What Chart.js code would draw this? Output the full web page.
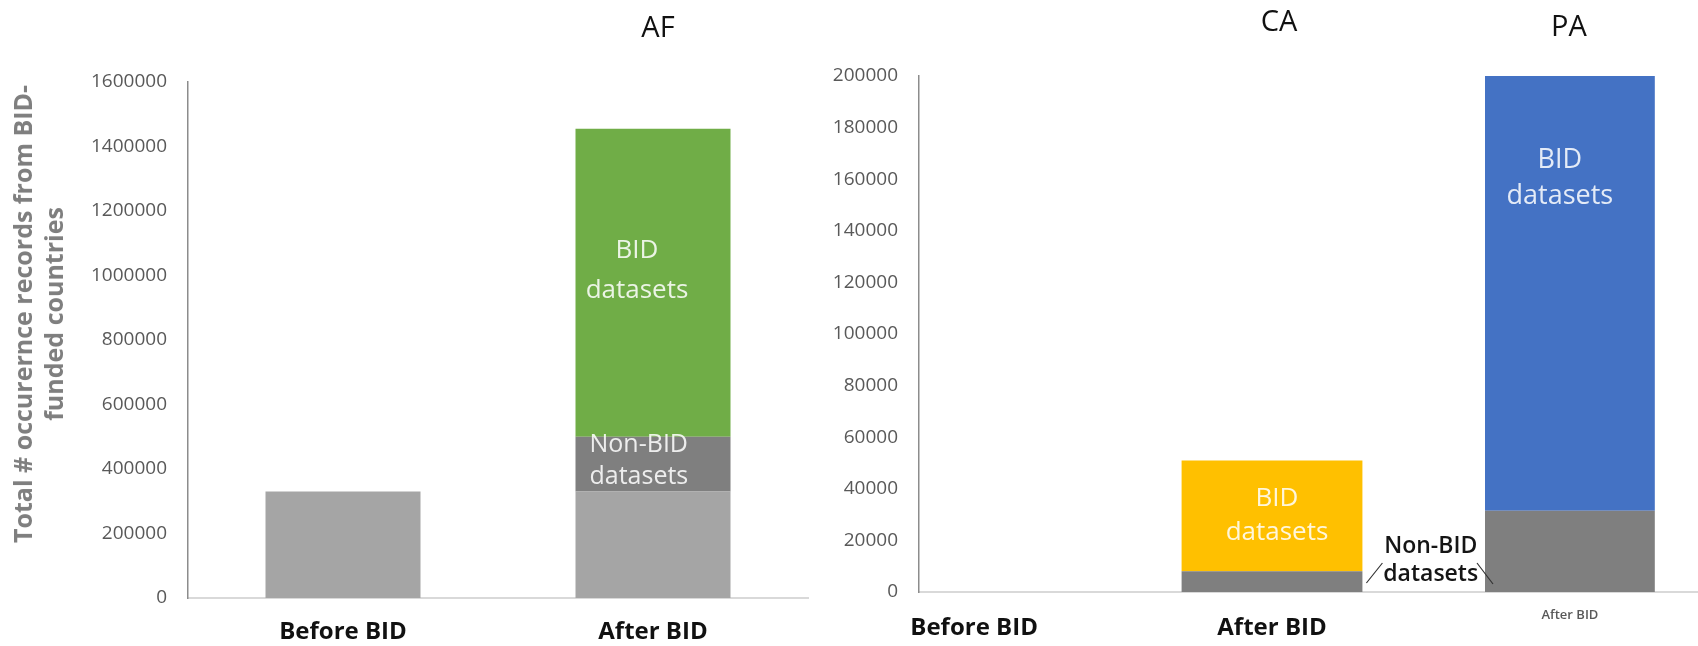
<!DOCTYPE html>
<html>
<head>
<meta charset="utf-8">
<script src="https://cdn.jsdelivr.net/npm/chart.js@4.4.1/dist/chart.umd.min.js"></script>
<style>
  html, body { margin: 0; padding: 0; background: #fff; }
  #wrap { position: relative; width: 1698px; height: 646px; overflow: hidden; font-family: 'Open Sans', sans-serif; }
  #wrap canvas { position: absolute; top: 0; }
  .panel-title { position: absolute; font-size: 29px; color: #111; line-height: 1; white-space: nowrap; transform: translate(-50%, -50%); }
  #yTitle { position: absolute; left: 38px; top: 314px; transform: translate(-50%, -50%) rotate(-90deg);
            text-align: center; font-weight: 700; font-size: 25px; line-height: 31px; color: #7f7f7f; white-space: nowrap; }
</style>
</head>
<body>
<div id="wrap">
  <canvas id="afChart" width="830" height="646" style="left:0"></canvas>
  <canvas id="capaChart" width="868" height="646" style="left:830px"></canvas>
  <div class="panel-title" style="left:658px; top:25px">AF</div>
  <div class="panel-title" style="left:1279px; top:19px">CA</div>
  <div class="panel-title" style="left:1569px; top:24px">PA</div>
  <div id="yTitle">Total # occurernce records from BID-<br>funded countries</div>
</div>
<script>
// ---- AF panel data ----
const afCategories = ['Before BID', 'After BID'];
const afExisting = [330000, 330000];   // records available before BID
const afNonBid = [0, 170000];
const afBid = [0, 955000];
const afYMax = 1600000;
const afYStep = 200000;

// ---- CA / PA panel data ----
const capaCategories = ['Before BID', 'After BID', 'After BID'];
const caNonBid = [0, 8000, null];
const caBid = [0, 43000, null];
const paNonBid = [null, null, 31500];
const paBid = [null, null, 168500];
const capaYMax = 200000;
const capaYStep = 20000;

const GREY_TXT = '#595959';
const INNER_TXT = 'rgba(255,255,255,0.86)';

// text written inside a bar segment (dataset.segLabel)
const segmentLabels = {
  id: 'segmentLabels',
  afterDatasetsDraw(chart) {
    const ctx = chart.ctx;
    chart.data.datasets.forEach((ds, di) => {
      const lab = ds.segLabel;
      if (!lab) return;
      const el = chart.getDatasetMeta(di).data[lab.at];
      if (!el) return;
      const {x, y, base, width} = el.getProps(['x', 'y', 'base', 'width'], true);
      ctx.save();
      ctx.font = (lab.weight || 400) + ' ' + lab.size + "px 'Open Sans'";
      ctx.fillStyle = lab.color;
      ctx.textBaseline = 'middle';
      let cx;
      if (lab.align === 'left') {
        ctx.textAlign = 'left';
        cx = x - width / 2 + lab.pad;
      } else {
        ctx.textAlign = 'center';
        cx = x + (lab.dx || 0);
      }
      const cy = lab.anchor === 'top' ? y + lab.offset : (y + base) / 2 + (lab.dy || 0);
      const n = lab.lines.length;
      lab.lines.forEach((t, k) => ctx.fillText(t, cx, cy + (k - (n - 1) / 2) * lab.lineHeight));
      ctx.restore();
    });
  }
};

// "Non-BID datasets" callout between the CA and PA bars
const nonBidCallout = {
  id: 'nonBidCallout',
  afterDatasetsDraw(chart) {
    const ca = chart.getDatasetMeta(0).data[1];
    const pa = chart.getDatasetMeta(2).data[2];
    if (!ca || !pa) return;
    const left = ca.x + ca.width / 2;
    const right = pa.x - pa.width / 2;
    const cx = (left + right) / 2 + 7;
    const yb = chart.scales.y.getPixelForValue(0);
    const ctx = chart.ctx;
    ctx.save();
    ctx.font = "600 23px 'Open Sans'";
    ctx.fillStyle = '#151515';
    ctx.textAlign = 'center';
    ctx.textBaseline = 'middle';
    ctx.fillText('Non-BID', cx, yb - 46);
    ctx.fillText('datasets', cx, yb - 18);
    ctx.strokeStyle = '#333';
    ctx.lineWidth = 1.2;
    ctx.beginPath();
    ctx.moveTo(left + 4, yb - 9); ctx.lineTo(left + 20, yb - 29);
    ctx.moveTo(right - 8, yb - 29); ctx.lineTo(right + 8, yb - 8);
    ctx.stroke();
    ctx.restore();
  }
};

const tickFont = {family: "'Open Sans'", size: 19};
const catFont = {family: "'Open Sans'", size: 24, weight: '700'};
const plainNumber = v => String(v);

function toPoints(values) {
  return values.map((v, i) => ({x: i, y: v}));
}

// A. AF chart
new Chart(document.getElementById('afChart'), {
  type: 'bar',
  data: {
    labels: afCategories,
    datasets: [
      { label: 'Existing', data: afExisting, backgroundColor: '#A5A5A5' },
      { label: 'Non-BID datasets', data: afNonBid, backgroundColor: '#7F7F7F',
        segLabel: {at: 1, lines: ['Non-BID', 'datasets'], align: 'left', pad: 14, dy: -3, lineHeight: 32, size: 25, color: INNER_TXT} },
      { label: 'BID datasets', data: afBid, backgroundColor: '#70AD47',
        segLabel: {at: 1, lines: ['BID', 'datasets'], dx: -16, dy: -12, lineHeight: 40, size: 26, color: INNER_TXT} }
    ]
  },
  options: {
    responsive: false,
    animation: false,
    layout: { padding: {top: 82, right: 22, bottom: 0, left: 0} },
    datasets: { bar: { categoryPercentage: 1, barPercentage: 0.5, borderWidth: 0 } },
    scales: {
      x: {
        stacked: true,
        grid: { display: false, drawTicks: false },
        border: { display: true, color: '#d9d9d9', width: 2 },
        ticks: { color: '#111', font: catFont, padding: 20, maxRotation: 0 },
        afterFit: s => { s.height = 48; }
      },
      y: {
        stacked: true,
        min: 0, max: afYMax,
        grid: { display: false, drawTicks: false },
        border: { display: true, color: '#8c8c8c', width: 1.5 },
        ticks: { stepSize: afYStep, color: GREY_TXT, font: tickFont, padding: 21, callback: plainNumber },
        afterFit: s => { s.width = 188; }
      }
    },
    plugins: { legend: { display: false }, tooltip: { enabled: false } }
  },
  plugins: [segmentLabels]
});

// B. CA / PA chart (shared y axis)
new Chart(document.getElementById('capaChart'), {
  type: 'bar',
  data: {
    datasets: [
      { label: 'CA Non-BID', data: toPoints(caNonBid), backgroundColor: '#7F7F7F', barPercentage: 0.607 },
      { label: 'CA BID', data: toPoints(caBid), backgroundColor: '#FFC000', barPercentage: 0.607,
        segLabel: {at: 1, lines: ['BID', 'datasets'], dx: 5, dy: 0, lineHeight: 34, size: 26, color: INNER_TXT} },
      { label: 'PA Non-BID', data: toPoints(paNonBid), backgroundColor: '#7F7F7F', barPercentage: 0.57 },
      { label: 'PA BID', data: toPoints(paBid), backgroundColor: '#4472C4', barPercentage: 0.57,
        segLabel: {at: 2, lines: ['BID', 'datasets'], anchor: 'top', offset: 102, dx: -10, lineHeight: 36, size: 27, color: INNER_TXT} }
    ]
  },
  options: {
    responsive: false,
    animation: false,
    layout: { padding: {top: 76, right: 0, bottom: 0, left: 0} },
    datasets: { bar: { categoryPercentage: 1, borderWidth: 0 } },
    scales: {
      x: {
        type: 'linear',
        stacked: true,
        offset: false,
        min: -0.185, max: 2.43,
        grid: { display: false, drawTicks: false, offset: false },
        border: { display: true, color: '#d9d9d9', width: 2 },
        afterBuildTicks: s => { s.ticks = capaCategories.map((c, i) => ({value: i})); },
        ticks: {
          autoSkip: false, maxRotation: 0, padding: 22,
          callback: (v, i) => capaCategories[i],
          color: c => c.index === 2 ? GREY_TXT : '#111',
          font: c => c.index === 2
            ? {family: "'Open Sans'", size: 13, weight: '600', lineHeight: 0.2}
            : catFont
        },
        afterFit: s => { s.height = 54; }
      },
      y: {
        stacked: true,
        min: 0, max: capaYMax,
        grid: { display: false, drawTicks: false },
        border: { display: true, color: '#8c8c8c', width: 1.5 },
        ticks: { stepSize: capaYStep, color: GREY_TXT, font: tickFont, padding: 21, callback: plainNumber },
        afterFit: s => { s.width = 89; }
      }
    },
    plugins: { legend: { display: false }, tooltip: { enabled: false } }
  },
  plugins: [segmentLabels, nonBidCallout]
});
</script>
</body>
</html>
